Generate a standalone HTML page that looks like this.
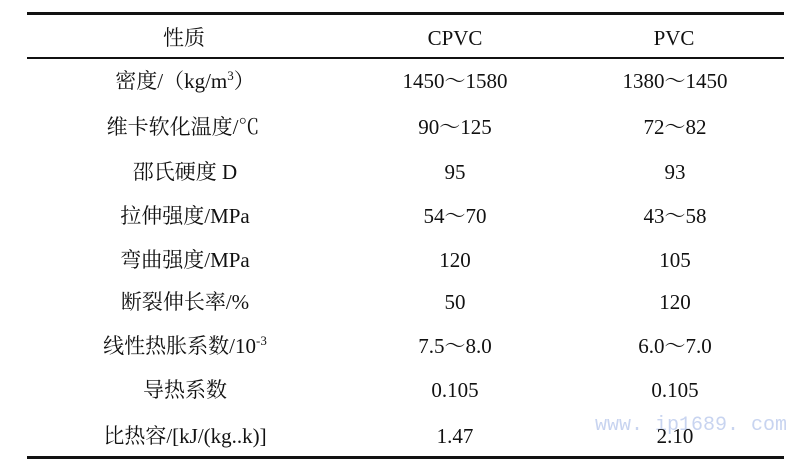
<!DOCTYPE html>
<html><head><meta charset="utf-8"><style>
body{margin:0;width:800px;height:465px;background:#fff;position:relative;overflow:hidden;font-family:"Liberation Serif","Noto Serif CJK SC",serif;color:#111;}
.l{position:absolute;left:27px;width:757px;background:#111;}
.t{position:absolute;font-size:21px;line-height:24px;transform:translate(-50%,-50%);white-space:nowrap;}
sup{font-size:13px;line-height:0;vertical-align:8px;}
.w{position:absolute;left:595px;top:414px;font-family:"Liberation Mono",monospace;font-size:20px;line-height:24px;color:#c8d4f0;white-space:nowrap;}
</style></head><body>
<div class="l" style="top:12px;height:3px"></div>
<div class="l" style="top:57px;height:2px"></div>
<div class="l" style="top:456px;height:3px"></div>
<div class="w">www. ip1689. com</div>
<div class="t" style="left:184px;top:38px">性质</div>
<div class="t" style="left:455px;top:38px">CPVC</div>
<div class="t" style="left:674px;top:38px">PVC</div>

<div class="t" style="left:185px;top:81px">密度/（kg/m<sup>3</sup>）</div>
<div class="t" style="left:455px;top:81px">1450～1580</div>
<div class="t" style="left:675px;top:81px">1380～1450</div>

<div class="t" style="left:183px;top:127px">维卡软化温度/℃</div>
<div class="t" style="left:455px;top:127px">90～125</div>
<div class="t" style="left:675px;top:127px">72～82</div>

<div class="t" style="left:185px;top:172px">邵氏硬度 D</div>
<div class="t" style="left:455px;top:172px">95</div>
<div class="t" style="left:675px;top:172px">93</div>

<div class="t" style="left:185px;top:216px">拉伸强度/MPa</div>
<div class="t" style="left:455px;top:216px">54～70</div>
<div class="t" style="left:675px;top:216px">43～58</div>

<div class="t" style="left:185px;top:260px">弯曲强度/MPa</div>
<div class="t" style="left:455px;top:260px">120</div>
<div class="t" style="left:675px;top:260px">105</div>

<div class="t" style="left:185px;top:302px">断裂伸长率/%</div>
<div class="t" style="left:455px;top:302px">50</div>
<div class="t" style="left:675px;top:302px">120</div>

<div class="t" style="left:185px;top:346px">线性热胀系数/10<sup>-3</sup></div>
<div class="t" style="left:455px;top:346px">7.5～8.0</div>
<div class="t" style="left:675px;top:346px">6.0～7.0</div>

<div class="t" style="left:185px;top:390px">导热系数</div>
<div class="t" style="left:455px;top:390px">0.105</div>
<div class="t" style="left:675px;top:390px">0.105</div>

<div class="t" style="left:185px;top:436px">比热容/[kJ/(kg..k)]</div>
<div class="t" style="left:455px;top:436px">1.47</div>
<div class="t" style="left:675px;top:436px">2.10</div>
</body></html>
